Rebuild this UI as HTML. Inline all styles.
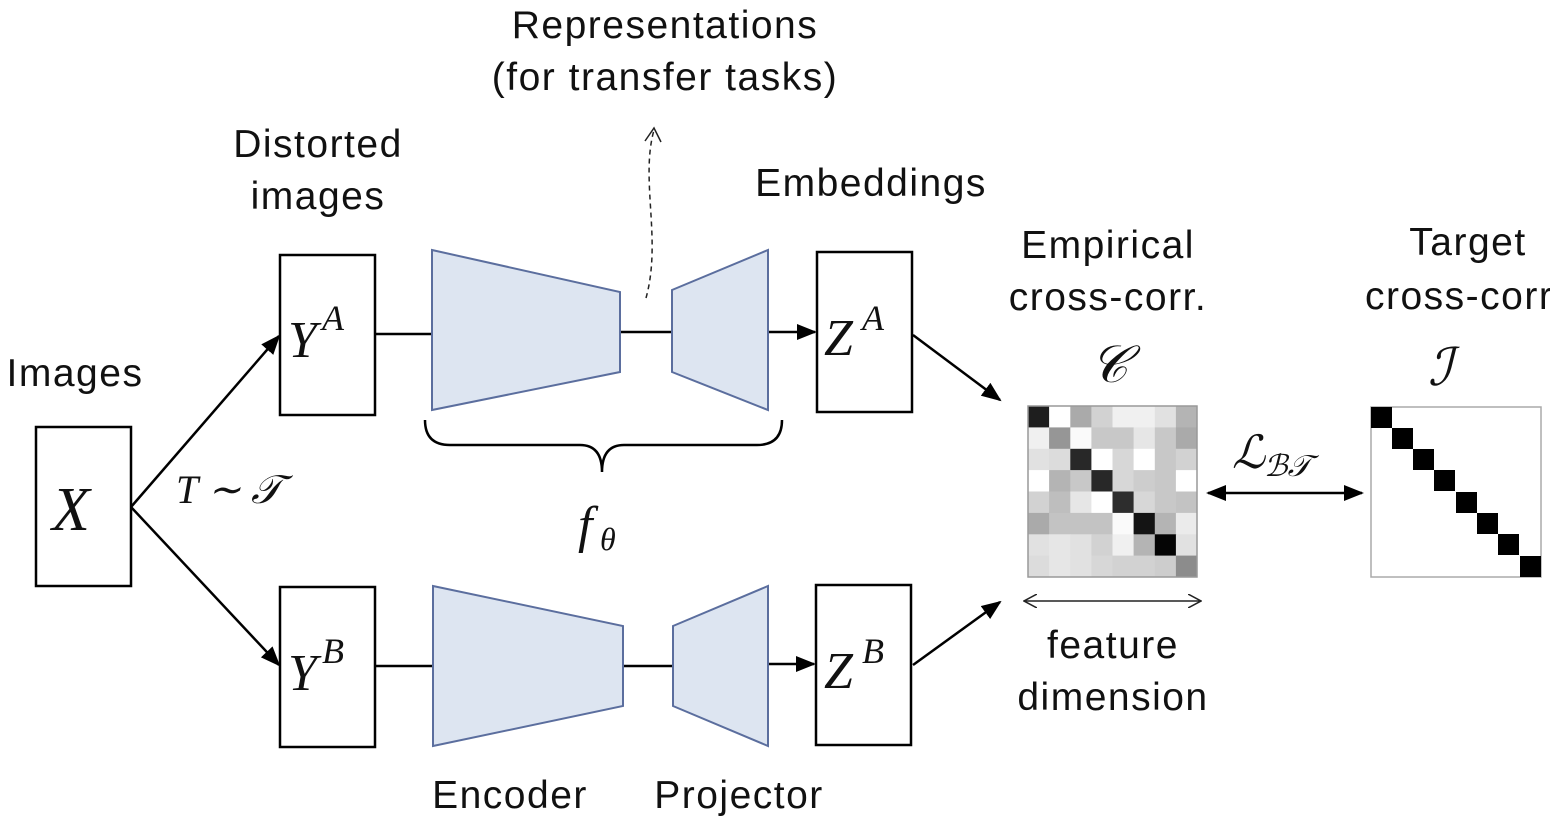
<!DOCTYPE html>
<html><head><style>
body{margin:0;background:#fff;}
svg{display:block;}
.t{font-family:"Liberation Sans",sans-serif;font-size:39px;letter-spacing:1.5px;fill:#111;}
.m{font-family:"Liberation Serif",serif;font-style:italic;fill:#111;}
</style></head><body>
<svg width="1550" height="816" viewBox="0 0 1550 816" xmlns="http://www.w3.org/2000/svg">
<defs>
<marker id="ab" markerWidth="20" markerHeight="16" refX="18" refY="8" orient="auto-start-reverse" markerUnits="userSpaceOnUse"><path d="M0,0 L20,8 L0,16 Z" fill="#000"/></marker>
<marker id="ao" markerWidth="14" markerHeight="14" refX="13" refY="7" orient="auto-start-reverse" markerUnits="userSpaceOnUse"><path d="M0,0 L13,7 L0,14" fill="none" stroke="#222" stroke-width="1.5"/></marker>
</defs>
<g stroke="#000" stroke-width="2.5" fill="none">
<rect x="36" y="427" width="95" height="159" fill="#fff"/>
<rect x="280" y="255" width="95" height="160" fill="#fff"/>
<rect x="817" y="252" width="95" height="160" fill="#fff"/>
<rect x="280" y="587" width="95" height="160" fill="#fff"/>
<rect x="816" y="585" width="95" height="160" fill="#fff"/>
<line x1="375" y1="334" x2="432" y2="334"/>
<line x1="620" y1="332" x2="672" y2="332"/>
<line x1="768" y1="332" x2="815" y2="332" marker-end="url(#ab)"/>
<line x1="375" y1="666" x2="433" y2="666"/>
<line x1="623" y1="666" x2="673" y2="666"/>
<line x1="768" y1="664" x2="814" y2="664" marker-end="url(#ab)"/>
<line x1="131" y1="507" x2="279" y2="336" marker-end="url(#ab)"/>
<line x1="131" y1="507" x2="279" y2="665" marker-end="url(#ab)"/>
<line x1="913" y1="335" x2="1000" y2="400" marker-end="url(#ab)"/>
<line x1="913" y1="665" x2="1000" y2="602" marker-end="url(#ab)"/>
<line x1="1208" y1="493" x2="1362" y2="493" marker-start="url(#ab)" marker-end="url(#ab)"/>
<path d="M425,420 Q425,445 450,445 L580,445 Q602,445 602,472 Q602,445 624,445 L757,445 Q782,445 782,420" stroke-width="2.5"/>
</g>
<line x1="1024" y1="601" x2="1201" y2="601" stroke="#222" stroke-width="1.5" marker-start="url(#ao)" marker-end="url(#ao)"/>
<path d="M646,298 C662,240 640,180 654,130" fill="none" stroke="#222" stroke-width="1.5" stroke-dasharray="5,4"/>
<path d="M645,141 L654,128 L661,142" fill="none" stroke="#222" stroke-width="1.5"/>
<g fill="#dde5f1" stroke="#5b6e9e" stroke-width="2">
<polygon points="432,250 620,292 620,372 432,410"/>
<polygon points="672,290 768,250 768,410 672,372"/>
<polygon points="433,586 623,626 623,706 433,746"/>
<polygon points="673,626 768,586 768,746 673,706"/>
</g>
<g>
<rect x="1028" y="406" width="21.6" height="21.8" fill="#1e1e1e"/><rect x="1049.1" y="406" width="21.6" height="21.8" fill="#fff"/><rect x="1070.3" y="406" width="21.6" height="21.8" fill="#aaa"/><rect x="1091.4" y="406" width="21.6" height="21.8" fill="#d2d2d2"/><rect x="1112.5" y="406" width="21.6" height="21.8" fill="#f0f0f0"/><rect x="1133.6" y="406" width="21.6" height="21.8" fill="#f0f0f0"/><rect x="1154.8" y="406" width="21.6" height="21.8" fill="#e1e1e1"/><rect x="1175.9" y="406" width="21.1" height="21.8" fill="#b4b4b4"/>
<rect x="1028" y="427.4" width="21.6" height="21.8" fill="#f0f0f0"/><rect x="1049.1" y="427.4" width="21.6" height="21.8" fill="#969696"/><rect x="1070.3" y="427.4" width="21.6" height="21.8" fill="#fafafa"/><rect x="1091.4" y="427.4" width="21.6" height="21.8" fill="#c8c8c8"/><rect x="1112.5" y="427.4" width="21.6" height="21.8" fill="#c8c8c8"/><rect x="1133.6" y="427.4" width="21.6" height="21.8" fill="#e6e6e6"/><rect x="1154.8" y="427.4" width="21.6" height="21.8" fill="#c8c8c8"/><rect x="1175.9" y="427.4" width="21.1" height="21.8" fill="#aaa"/>
<rect x="1028" y="448.8" width="21.6" height="21.8" fill="#e1e1e1"/><rect x="1049.1" y="448.8" width="21.6" height="21.8" fill="#dcdcdc"/><rect x="1070.3" y="448.8" width="21.6" height="21.8" fill="#282828"/><rect x="1091.4" y="448.8" width="21.6" height="21.8" fill="#fff"/><rect x="1112.5" y="448.8" width="21.6" height="21.8" fill="#d7d7d7"/><rect x="1133.6" y="448.8" width="21.6" height="21.8" fill="#fff"/><rect x="1154.8" y="448.8" width="21.6" height="21.8" fill="#c8c8c8"/><rect x="1175.9" y="448.8" width="21.1" height="21.8" fill="#d2d2d2"/>
<rect x="1028" y="470.1" width="21.6" height="21.8" fill="#fff"/><rect x="1049.1" y="470.1" width="21.6" height="21.8" fill="#b4b4b4"/><rect x="1070.3" y="470.1" width="21.6" height="21.8" fill="#c8c8c8"/><rect x="1091.4" y="470.1" width="21.6" height="21.8" fill="#282828"/><rect x="1112.5" y="470.1" width="21.6" height="21.8" fill="#d7d7d7"/><rect x="1133.6" y="470.1" width="21.6" height="21.8" fill="#cdcdcd"/><rect x="1154.8" y="470.1" width="21.6" height="21.8" fill="#c8c8c8"/><rect x="1175.9" y="470.1" width="21.1" height="21.8" fill="#fff"/>
<rect x="1028" y="491.5" width="21.6" height="21.8" fill="#d2d2d2"/><rect x="1049.1" y="491.5" width="21.6" height="21.8" fill="#bebebe"/><rect x="1070.3" y="491.5" width="21.6" height="21.8" fill="#e6e6e6"/><rect x="1091.4" y="491.5" width="21.6" height="21.8" fill="#fff"/><rect x="1112.5" y="491.5" width="21.6" height="21.8" fill="#2d2d2d"/><rect x="1133.6" y="491.5" width="21.6" height="21.8" fill="#d7d7d7"/><rect x="1154.8" y="491.5" width="21.6" height="21.8" fill="#c8c8c8"/><rect x="1175.9" y="491.5" width="21.1" height="21.8" fill="#c3c3c3"/>
<rect x="1028" y="512.9" width="21.6" height="21.8" fill="#aaa"/><rect x="1049.1" y="512.9" width="21.6" height="21.8" fill="#c3c3c3"/><rect x="1070.3" y="512.9" width="21.6" height="21.8" fill="#c3c3c3"/><rect x="1091.4" y="512.9" width="21.6" height="21.8" fill="#c3c3c3"/><rect x="1112.5" y="512.9" width="21.6" height="21.8" fill="#fafafa"/><rect x="1133.6" y="512.9" width="21.6" height="21.8" fill="#141414"/><rect x="1154.8" y="512.9" width="21.6" height="21.8" fill="#b4b4b4"/><rect x="1175.9" y="512.9" width="21.1" height="21.8" fill="#ebebeb"/>
<rect x="1028" y="534.3" width="21.6" height="21.8" fill="#e1e1e1"/><rect x="1049.1" y="534.3" width="21.6" height="21.8" fill="#e6e6e6"/><rect x="1070.3" y="534.3" width="21.6" height="21.8" fill="#e1e1e1"/><rect x="1091.4" y="534.3" width="21.6" height="21.8" fill="#d2d2d2"/><rect x="1112.5" y="534.3" width="21.6" height="21.8" fill="#f0f0f0"/><rect x="1133.6" y="534.3" width="21.6" height="21.8" fill="#b4b4b4"/><rect x="1154.8" y="534.3" width="21.6" height="21.8" fill="#050505"/><rect x="1175.9" y="534.3" width="21.1" height="21.8" fill="#e1e1e1"/>
<rect x="1028" y="555.6" width="21.6" height="21.4" fill="#dcdcdc"/><rect x="1049.1" y="555.6" width="21.6" height="21.4" fill="#e6e6e6"/><rect x="1070.3" y="555.6" width="21.6" height="21.4" fill="#e1e1e1"/><rect x="1091.4" y="555.6" width="21.6" height="21.4" fill="#d7d7d7"/><rect x="1112.5" y="555.6" width="21.6" height="21.4" fill="#d2d2d2"/><rect x="1133.6" y="555.6" width="21.6" height="21.4" fill="#d2d2d2"/><rect x="1154.8" y="555.6" width="21.6" height="21.4" fill="#cdcdcd"/><rect x="1175.9" y="555.6" width="21.1" height="21.4" fill="#8c8c8c"/>
</g>
<rect x="1028" y="406" width="169" height="171" fill="none" stroke="#999" stroke-width="1.5"/>
<rect x="1371" y="407" width="170" height="170" fill="none" stroke="#aaa" stroke-width="1.5"/>
<g fill="#000">
<rect x="1371" y="407" width="21" height="21"/><rect x="1392" y="428" width="21" height="21"/><rect x="1413" y="449" width="21" height="21"/><rect x="1434" y="470" width="21" height="21"/><rect x="1456" y="492" width="21" height="21"/><rect x="1477" y="513" width="21" height="21"/><rect x="1498" y="534" width="21" height="21"/><rect x="1520" y="556" width="21" height="21"/>
</g>
<g class="t">
<text x="665" y="38" text-anchor="middle">Representations</text>
<text x="665" y="90" text-anchor="middle">(for transfer tasks)</text>
<text x="318" y="157" text-anchor="middle">Distorted</text>
<text x="318" y="209" text-anchor="middle">images</text>
<text x="871" y="196" text-anchor="middle">Embeddings</text>
<text x="1108" y="258" text-anchor="middle">Empirical</text>
<text x="1108" y="310" text-anchor="middle">cross-corr.</text>
<text x="1468" y="255" text-anchor="middle">Target</text>
<text x="1365" y="309">cross-corr</text>
<text x="75" y="386" text-anchor="middle">Images</text>
<text x="1113" y="658" text-anchor="middle">feature</text>
<text x="1113" y="710" text-anchor="middle">dimension</text>
<text x="510" y="808" text-anchor="middle">Encoder</text>
<text x="739" y="808" text-anchor="middle">Projector</text>
</g>
<g class="m">
<text x="52" y="530" font-size="62">X</text>
<text x="288" y="357" font-size="52">Y</text><text x="322" y="330" font-size="36">A</text>
<text x="288" y="690" font-size="52">Y</text><text x="322" y="663" font-size="36">B</text>
<text x="824" y="355" font-size="52">Z</text><text x="862" y="330" font-size="36">A</text>
<text x="824" y="688" font-size="52">Z</text><text x="862" y="663" font-size="36">B</text>
<text x="176" y="503" font-size="40">T ∼ 𝒯</text>
<text x="578" y="542" font-size="52">f</text><text x="600" y="550" font-size="32">θ</text>
<text x="1090" y="382" font-size="52">𝒞</text>
<text x="1428" y="385" font-size="52">ℐ</text>
<text x="1232" y="468" font-size="46">ℒ</text><text x="1264" y="476" font-size="30">ℬ𝒯</text>
</g>
</svg>
</body></html>
